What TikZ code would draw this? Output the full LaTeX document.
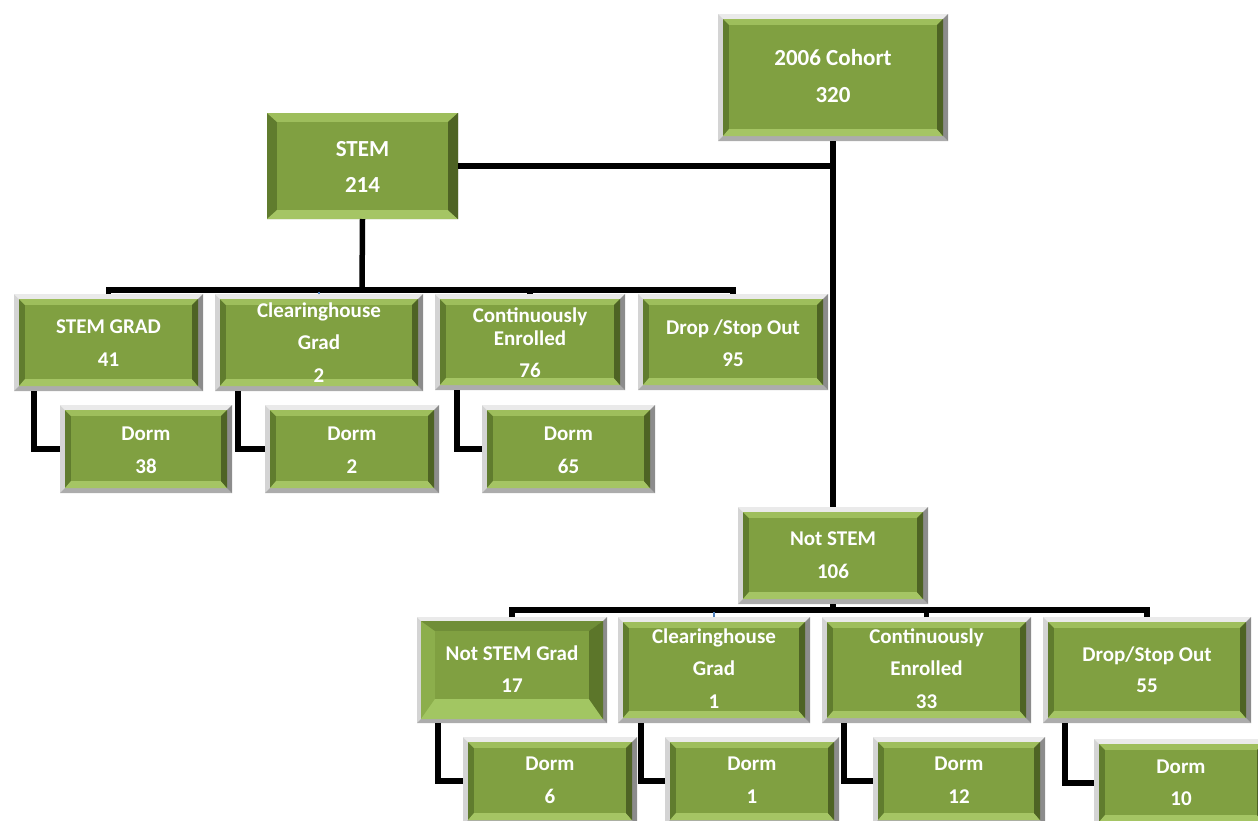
\documentclass[tikz,border=0pt]{standalone}
\usepackage{fontspec}
\newfontfamily\carl{Carlito}
\usetikzlibrary{calc}
\definecolor{face}{RGB}{128,160,65}
\definecolor{bevT}{RGB}{158,190,92}
\definecolor{bevB}{RGB}{165,197,100}
\definecolor{bevL}{RGB}{96,124,46}
\definecolor{bevR}{RGB}{78,99,36}
\definecolor{nsgT}{RGB}{112,142,56}
\definecolor{nsgL}{RGB}{140,174,76}
\definecolor{nsgB}{RGB}{162,198,98}
\definecolor{nsgR}{RGB}{92,118,42}
\definecolor{frameM}{RGB}{212,212,212}
\definecolor{frameT}{RGB}{234,234,234}
\definecolor{frameB}{RGB}{172,172,172}
\definecolor{frameR}{RGB}{140,140,140}
\definecolor{frameD}{RGB}{70,70,70}
\definecolor{tickblue}{RGB}{79,129,189}
\def\bevf{5pt}\def\bevs{6pt}\def\bevt{6pt}\def\bevb{7pt}
\def\cT{bevT}\def\cL{bevL}\def\cB{bevB}\def\cR{bevR}
\newcommand\bevelpic{%
 \coordinate (o1) at (path picture bounding box.south west);
 \coordinate (o3) at (path picture bounding box.north east);
 \coordinate (o2) at (o1 -| o3);
 \coordinate (o4) at (o3 -| o1);
 \coordinate (m1) at ($(o1)+(\bevf,\bevf)$);
 \coordinate (m2) at ($(o2)+(-\bevf,\bevf)$);
 \coordinate (m3) at ($(o3)+(-\bevf,-\bevf)$);
 \coordinate (m4) at ($(o4)+(\bevf,-\bevf)$);
 \coordinate (i1) at ($(m1)+(\bevs,\bevb)$);
 \coordinate (i2) at ($(m2)+(-\bevs,\bevb)$);
 \coordinate (i3) at ($(m3)+(-\bevs,-\bevt)$);
 \coordinate (i4) at ($(m4)+(\bevs,-\bevt)$);
 \fill[fill=frameT] (o4) -- (o3) -- (m3) -- (m4) -- cycle;
 \fill[fill=frameB] (o1) -- (o2) -- (m2) -- (m1) -- cycle;
 \fill[fill=frameR] (o2) -- (o3) -- (m3) -- (m2) -- cycle;
 \fill[fill=\cL] (m1) rectangle (m3);
 \fill[fill=\cT] (m4) -- (m3) -- (i3) -- (i4) -- cycle;
 \fill[fill=\cB] (m1) -- (m2) -- (i2) -- (i1) -- cycle;
 \fill[fill=\cR] (m2) -- (m3) -- (i3) -- (i2) -- cycle;
 \fill[fill=face] (i1) rectangle (i3);
}
\newcommand\bl[3]{\raisebox{#1}[0pt][0pt]{\vbox{\baselineskip=#2\lineskiplimit=-100pt\halign{\hfil##\hfil\cr #3\crcr}}}}
\tikzset{
  bevsize/.code args={#1/#2/#3/#4}{\def\bevf{#1}\def\bevs{#2}\def\bevt{#3}\def\bevb{#4}},
  bevcol/.code args={#1/#2/#3/#4}{\def\cT{#1}\def\cL{#2}\def\cB{#3}\def\cR{#4}},
  bevbox/.style={rectangle, inner sep=0pt, outer sep=0pt, fill=frameM, text=white,
    font=\carl\bfseries\fontsize{21}{25}\selectfont,
    bevsize=5pt/6pt/6pt/7pt, bevcol=bevT/bevL/bevB/bevR,
    path picture={\bevelpic}},
  bigbox/.style={bevbox, font=\carl\bfseries\fontsize{23}{27}\selectfont},
  plainbev/.style={bevsize=0pt/10pt/9pt/9pt},
  softbev/.style={bevsize=4pt/14pt/10pt/20pt, bevcol=nsgT/nsgL/nsgB/nsgR},
  conn/.style={draw=black, line width=5.5pt, line join=miter},
  blueconn/.style={draw=tickblue, line width=2.2pt}
}
\begin{document}
\begin{tikzpicture}[x=1pt,y=-1pt]
\useasboundingbox (0,0) rectangle (1258,820);
% top level
\node[bigbox, minimum width=230pt, minimum height=127pt] (coh) at (833,77.5)
  {\bl{-25.2pt}{37pt}{2006 Cohort\cr 320}};
\node[bigbox, plainbev, minimum width=191pt, minimum height=106pt] (stem) at (362.5,166)
  {\bl{-26pt}{36pt}{STEM\cr 214}};
% STEM children
\node[bevbox, minimum width=189pt, minimum height=97pt] (sg) at (108.5,342.5)
  {\bl{-23.5pt}{33pt}{STEM GRAD\cr 41}};
\node[bevbox, minimum width=208pt, minimum height=97pt] (cg1) at (319,342.5)
  {\bl{-39.5pt}{32.5pt}{Clearinghouse\cr Grad\cr 2}};
\node[bevbox, minimum width=190pt, minimum height=96pt] (ce1) at (530,342)
  {\bl{-35pt}{32pt}{Continuously\cr\noalign{\vskip-9pt} Enrolled\cr 76}};
\node[bevbox, minimum width=190pt, minimum height=96pt] (ds1) at (733,342)
  {\bl{-24pt}{32pt}{Drop /Stop Out\cr 95}};
\node[bevbox, minimum width=172pt, minimum height=88pt] (d1) at (146,449)
  {\bl{-24pt}{33pt}{Dorm\cr 38}};
\node[bevbox, minimum width=174pt, minimum height=88pt] (d2) at (352,449)
  {\bl{-24pt}{33pt}{Dorm\cr 2}};
\node[bevbox, minimum width=173pt, minimum height=88pt] (d3) at (568.5,449)
  {\bl{-24pt}{33pt}{Dorm\cr 65}};
% Not STEM
\node[bevbox, minimum width=190pt, minimum height=97pt] (ns) at (833,555.5)
  {\bl{-22.5pt}{33pt}{Not STEM\cr 106}};
\node[bevbox, softbev, minimum width=190pt, minimum height=106pt] (nsg) at (512,670)
  {\bl{-22pt}{32pt}{Not STEM Grad\cr 17}};
\node[bevbox, minimum width=192pt, minimum height=106pt] (cg2) at (714,670)
  {\bl{-38pt}{32.5pt}{Clearinghouse\cr Grad\cr 1}};
\node[bevbox, minimum width=209pt, minimum height=106pt] (ce2) at (926.5,670)
  {\bl{-38pt}{32.5pt}{Continuously\cr Enrolled\cr 33}};
\node[bevbox, minimum width=208pt, minimum height=106pt] (ds2) at (1147,670)
  {\bl{-22pt}{31pt}{Drop/Stop Out\cr 55}};
\node[bevbox, minimum width=174pt, minimum height=88pt] (d4) at (550,781)
  {\bl{-22pt}{33pt}{Dorm\cr 6}};
\node[bevbox, minimum width=174pt, minimum height=88pt] (d5) at (752,781)
  {\bl{-22pt}{33pt}{Dorm\cr 1}};
\node[bevbox, minimum width=172pt, minimum height=88pt] (d6) at (959,781)
  {\bl{-22pt}{33pt}{Dorm\cr 12}};
\node[bevbox, minimum width=174pt, minimum height=88pt] (d7) at (1181,783)
  {\bl{-22pt}{32pt}{Dorm\cr 10}};
% connectors
\coordinate (busA) at (362,290);
\coordinate (busB) at (833,610);
\draw[conn] (coh.south) -- (ns.north);
\draw[conn] (stem.east) -- (coh.south |- stem.east);
\draw[conn] (stem.south) -- (busA);
\draw[conn] (sg.north) |- (busA) -| (ds1.north);
\draw[conn] (ce1.north) -- (ce1.north |- busA);
\draw[blueconn] (cg1.north) -- ($(cg1.north |- busA)+(0,-2pt)$);
\draw[conn] (ns.south) -- (busB);
\draw[conn] (nsg.north) |- (busB) -| (ds2.north);
\draw[conn] (ce2.north) -- (ce2.north |- busB);
\draw[blueconn] (cg2.north) -- ($(cg2.north |- busB)+(0,-2pt)$);
\draw[conn] ($(sg.south west)+(20pt,0)$) |- (d1.west);
\draw[conn] ($(cg1.south west)+(23pt,0)$) |- (d2.west);
\draw[conn] ($(ce1.south west)+(22pt,0)$) |- (d3.west);
\draw[conn] ($(nsg.south west)+(21pt,0)$) |- (d4.west);
\draw[conn] ($(cg2.south west)+(23pt,0)$) |- (d5.west);
\draw[conn] ($(ce2.south west)+(22pt,0)$) |- (d6.west);
\draw[conn] ($(ds2.south west)+(22pt,0)$) |- (d7.west);
\end{tikzpicture}
\end{document}
